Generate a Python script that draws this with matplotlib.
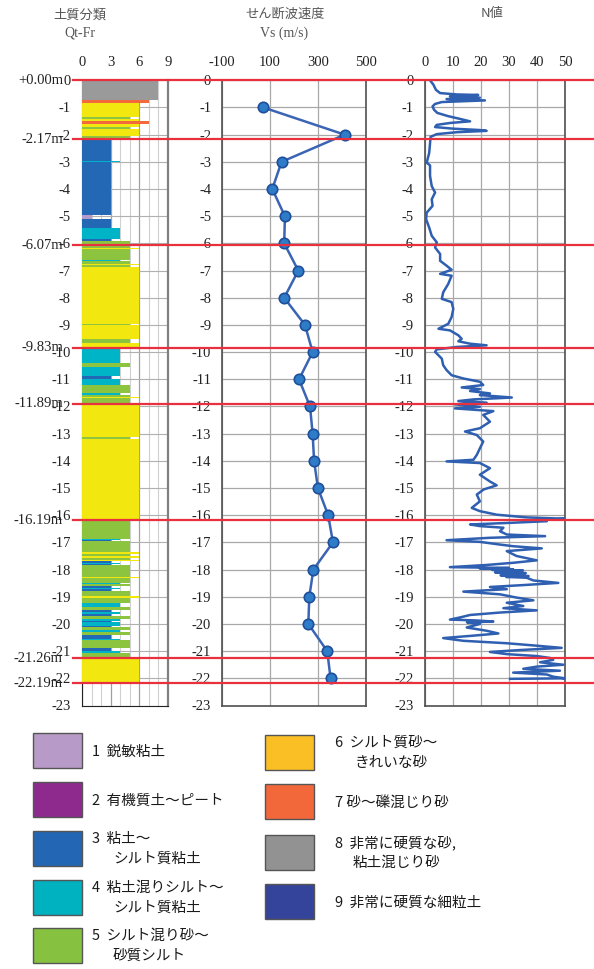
import matplotlib
matplotlib.use("Agg")
import matplotlib.pyplot as plt
import matplotlib.transforms as mtransforms
from matplotlib.lines import Line2D
from matplotlib.patches import Rectangle

plt.rcParams["axes.unicode_minus"] = False

# ---- soil classification layers (top depth m, class) ----
layer_top = [0.00, 0.74, 0.85, 1.36, 1.43, 1.50, 1.62, 1.70, 1.80, 2.06,
             2.17, 2.96, 3.00, 4.96, 5.12, 5.45, 5.82, 5.92, 6.07, 6.16,
             6.22, 6.62, 6.66, 6.74, 6.80, 6.86, 8.98, 9.02, 9.52, 9.65,
             9.83, 10.40, 10.56, 10.88, 11.00, 11.20, 11.50, 11.56, 11.64, 11.70,
             11.89, 13.14, 13.18, 16.19, 16.88, 16.92, 16.96, 17.36, 17.42, 17.50,
             17.58, 17.64, 17.70, 17.74, 17.78, 17.82, 18.26, 18.30, 18.48, 18.52,
             18.60, 18.66, 18.72, 18.78, 18.96, 19.04, 19.22, 19.38, 19.50, 19.56,
             19.62, 19.70, 19.80, 19.90, 19.94, 20.08, 20.12, 20.22, 20.30, 20.42,
             20.56, 20.60, 20.90, 21.00, 21.06, 21.26]
layer_cls = [8, 7, 6, 5, 6, 7, 6, 5, 6, 5,
             3, 4, 3, 1, 3, 4, 3, 5, 5, 6,
             5, 4, 5, 6, 5, 6, 5, 6, 5, 6,
             4, 5, 4, 3, 4, 5, 4, 5, 6, 5,
             6, 5, 6, 5, 4, 3, 5, 6, 5, 6,
             5, 6, 3, 4, 3, 5, 6, 5, 4, 5,
             3, 4, 3, 5, 6, 5, 4, 5, 3, 4,
             3, 5, 4, 3, 4, 3, 5, 4, 5, 3,
             4, 5, 3, 4, 5, 6]
layer_end = 22.19

bar_colors = {1: "#b49bcb", 2: "#8e2a8e", 3: "#2368b4", 4: "#00b4c8", 5: "#8cc43f",
              6: "#f2e70f", 7: "#f26a3b", 8: "#9a9a9a", 9: "#34449a"}

# ---- shear wave velocity ----
vs_depth = [1, 2, 3, 4, 5, 6, 7, 8, 9, 10, 11, 12, 13, 14, 15, 16, 17, 18, 19, 20, 21, 22]
vs_value = [72, 412, 148, 109, 162, 159, 218, 159, 246, 278, 221,
            267, 278, 284, 300, 343, 363, 281, 264, 260, 339, 353]

# ---- N value ----
n_depth = [0.00, 0.16, 0.35, 0.47, 0.52, 0.54, 0.59, 0.64, 0.69, 0.74, 0.80, 0.87, 0.96,
           1.08, 1.20, 1.32, 1.42, 1.51, 1.57, 1.64, 1.72, 1.78, 1.83, 1.86, 1.91, 1.98,
           2.08, 2.30, 2.67, 3.03, 3.13, 3.52, 3.89, 4.13, 4.38, 4.62, 4.87, 5.11, 5.42,
           5.72, 5.96, 6.15, 6.39, 6.64, 6.82, 6.97, 7.12, 7.19, 7.49, 7.80, 8.04, 8.16,
           8.41, 8.71, 8.96, 9.14, 9.20, 9.38, 9.51, 9.60, 9.69, 9.75, 9.81, 9.90, 9.99,
           10.24, 10.48, 10.66, 10.85, 10.97, 11.09, 11.21, 11.30, 11.36, 11.43, 11.52,
           11.58, 11.67, 11.74, 11.80, 11.86, 11.92, 12.01, 12.07, 12.17, 12.31, 12.56,
           12.80, 12.92, 13.05, 13.29, 13.54, 13.78, 13.96, 14.02, 14.08, 14.27, 14.51,
           14.76, 14.90, 15.05, 15.24, 15.49, 15.73, 15.85, 15.98, 16.08, 16.13, 16.17,
           16.22, 16.28, 16.34, 16.40, 16.46, 16.59, 16.71, 16.77, 16.83, 16.92, 16.98,
           17.08, 17.14, 17.22, 17.32, 17.50, 17.66, 17.75, 17.83, 17.91, 17.94, 17.96,
           17.99, 18.01, 18.03, 18.05, 18.08, 18.10, 18.13, 18.15, 18.18, 18.21, 18.24,
           18.27, 18.30, 18.40, 18.49, 18.57, 18.64, 18.72,
           18.81, 18.91, 19.03, 19.13, 19.22, 19.34, 19.42, 19.50, 19.58, 19.67, 19.76,
           19.84, 19.87, 19.91, 19.94, 20.00, 20.13, 20.25, 20.35, 20.43, 20.52, 20.62,
           20.71, 20.80, 20.88, 20.96, 21.03, 21.11, 21.18, 21.25, 21.32, 21.41, 21.50,
           21.57, 21.65, 21.72, 21.79, 21.86, 21.94, 22.00, 22.02]
n_value = [1.8, 3.0, 3.9, 5.4, 11.3, 19.0, 8.9, 19.6, 7.7, 21.4, 6.0, 3.6, 2.7,
           3.2, 4.4, 8.3, 12.5, 16.1, 8.9, 4.2, 3.6, 10.1, 19.6, 22.0, 11.3, 4.2,
           2.0, 1.8, 1.5, 0.6, 1.8, 1.8, 2.4, 3.6, 2.4, 2.7, 0.6, 0.4, 1.5,
           2.4, 4.2, 3.6, 5.4, 5.4, 7.7, 9.5, 5.4, 9.5, 8.3, 6.5, 6.0, 9.5,
           10.1, 9.5, 8.3, 4.8, 8.9, 11.9, 13.1, 11.9, 16.1, 22.0, 11.3, 4.2, 3.6,
           6.0, 6.5, 7.7, 9.5, 13.7, 19.6, 20.8, 13.1, 19.6, 16.1, 23.2,
           19.6, 31.0, 17.3, 11.9, 22.0, 10.7, 19.6, 10.7, 24.4, 20.8, 23.2,
           19.6, 14.3, 18.5, 20.8, 19.6, 18.5, 17.3, 7.7, 19.6, 23.2, 19.6,
           23.2, 25.6, 21.0, 18.5, 19.6, 16.7, 19.6, 25.6, 36.3, 50.0, 43.5,
           43.5, 30.4, 16.1, 19.6, 28.0, 26.8, 29.2, 42.9, 23.2, 7.7, 19.6,
           26.8, 31.5, 41.7, 29.2, 32.7, 39.9, 31.5, 22.0, 8.9, 30.0, 19.6,
           31.5, 24.0, 35.0, 26.0, 33.9, 25.0, 36.0, 28.0, 35.1, 27.0, 37.0,
           29.0, 36.3, 38.7, 47.6, 35.1, 23.2, 29.2,
           13.7, 26.8, 32.7, 38.7, 29.2, 35.1, 28.0, 39.9, 26.8, 16.1, 12.5,
           8.9, 18.0, 24.4, 15.0, 19.6, 14.9, 22.0, 26.2, 17.3, 6.5, 13.7,
           29.2, 39.9, 48.8, 33.9, 23.2, 29.2, 39.9, 44.6, 45.8, 41.1, 49.4,
           39.9, 35.1, 48.2, 31.5, 43.5, 45.8, 50.0, 30.4]

# ---- boundary lines ----
bound_depth = [0.00, 2.17, 6.07, 9.83, 11.89, 16.19, 21.26, 22.19]
bound_label = ["+0.00m", "-2.17m", "-6.07m", "-9.83m", "-11.89m", "-16.19m", "-21.26m", "-22.19m"]

# ---- legend ----
legend_colors = ["#b89ac8", "#8e2a8e", "#2366b3", "#00b2bf", "#86c240",
                 "#fbbf26", "#f2683a", "#929292", "#34449a"]
legend_text = [["1  鋭敏粘土"], ["2  有機質土～ピート"], ["3  粘土～", "シルト質粘土"],
               ["4  粘土混りシルト～", "シルト質粘土"], ["5  シルト混り砂～", "砂質シルト"],
               ["6  シルト質砂～", "きれいな砂"], ["7 砂～礫混じり砂"],
               ["8  非常に硬質な砂,", "粘土混じり砂"], ["9  非常に硬質な細粒土"]]

W, H = 594, 969
fig = plt.figure(figsize=(W / 100, H / 100), dpi=100)
serif = "Liberation Serif"
cjk = ["Noto Sans CJK JP", "DejaVu Sans"]


def px_axes(x0, x1, y0, y1):
    return fig.add_axes([x0 / W, 1 - y1 / H, (x1 - x0) / W, (y1 - y0) / H])


def style_depth_axis(ax):
    ax.set_ylim(-23, 0)
    ax.set_yticks(range(0, -24, -1))
    ax.set_yticklabels([str(v) for v in range(0, -24, -1)], fontfamily=serif, fontsize=10.5)
    ax.xaxis.tick_top()
    ax.tick_params(length=0, pad=8, labelcolor="#222222")
    for lab in ax.get_xticklabels():
        lab.set_fontfamily(serif)
        lab.set_fontsize(10.5)


ax1 = px_axes(82, 168, 80.3, 705.5)
ax2 = px_axes(222.3, 365.7, 80.3, 705.5)
ax3 = px_axes(425, 565, 80.3, 705.5)

# soil classification bars
tops = layer_top
bots = layer_top[1:] + [layer_end]
for t, b, c in zip(tops, bots, layer_cls):
    ax1.barh(-(t + b) / 2, c, height=b - t, left=0, color=bar_colors[c], linewidth=0, zorder=3)
ax1.set_xlim(0, 9)
ax1.set_xticks([0, 3, 6, 9])
ax1.set_xticks(range(10), minor=True)
ax1.grid(which="minor", axis="x", color="#d0d0d0", lw=0.8, zorder=0)
ax1.grid(which="major", axis="x", color="#a0a0a0", lw=0.9, zorder=0)
ax1.grid(which="major", axis="y", color="#b0b0b0", lw=0.8, zorder=0)
ax1.tick_params(which="minor", length=0)
style_depth_axis(ax1)
ax1.spines["left"].set_color("#222222")
ax1.spines["bottom"].set_color("#222222")
ax1.spines["right"].set_color("#808080")
ax1.spines["right"].set_linewidth(1.6)
ax1.spines["top"].set_visible(False)

# Vs
ax2.plot(vs_value, [-d for d in vs_depth], color="#3b64b4", lw=1.8, marker="o",
         ms=7.5, mfc="#2e7bc8", mec="#1f4f9a", mew=1.2, zorder=3)
ax2.set_xlim(-100, 500)
ax2.set_xticks([-100, 100, 300, 500])
ax2.grid(color="#a8a8a8", lw=0.9, zorder=0)
style_depth_axis(ax2)

# N value
ax3.plot(n_value, [-d for d in n_depth], color="#2f5fb0", lw=1.8, zorder=3)
ax3.set_xlim(0, 50)
ax3.set_xticks([0, 10, 20, 30, 40, 50])
ax3.grid(color="#a8a8a8", lw=0.9, zorder=0)
style_depth_axis(ax3)

for ax in (ax2, ax3):
    for s in ax.spines.values():
        s.set_color("#505050")
        s.set_linewidth(1.2)

# boundary lines across all panels
trans = mtransforms.blended_transform_factory(fig.transFigure, ax1.transData)
for d, lab in zip(bound_depth, bound_label):
    fig.add_artist(Line2D([73 / W, 1.0], [-d, -d], transform=trans, color="#e8303f",
                          lw=1.6, zorder=10))
    fig.text(63 / W, -d, lab, transform=trans, ha="right", va="center",
             fontfamily=serif, fontsize=10.5, color="#222222", zorder=11)

# titles
fig.text(80 / W, 1 - 15 / H, "土質分類", ha="center", va="center", family=cjk,
         fontsize=9.5, color="#555555")
fig.text(80 / W, 1 - 33 / H, "Qt-Fr", ha="center", va="center", fontfamily=serif,
         fontsize=10, color="#555555")
fig.text(285 / W, 1 - 14 / H, "せん断波速度", ha="center", va="center", family=cjk,
         fontsize=9.5, color="#555555")
fig.text(284 / W, 1 - 33 / H, "Vs (m/s)", ha="center", va="center", fontfamily=serif,
         fontsize=10, color="#555555")
fig.text(492 / W, 1 - 14 / H, "N値", ha="center", va="center", family=cjk,
         fontsize=9.5, color="#555555")

# legend
box_x = [33] * 5 + [265] * 4
box_top = [733, 782, 831, 880, 928, 735, 784, 835, 884]
text_x = [92] * 5 + [335] * 4
sub_x = [113] * 5 + [355, 355, 353, 353]
for i in range(9):
    fig.add_artist(Rectangle((box_x[i] / W, 1 - (box_top[i] + 35) / H), 49 / W, 35 / H,
                             transform=fig.transFigure, facecolor=legend_colors[i],
                             edgecolor="#555555", lw=1.0))
    lines = legend_text[i]
    if len(lines) == 1:
        fig.text(text_x[i] / W, 1 - (box_top[i] + 19) / H, lines[0], ha="left", va="center",
                 family=cjk, fontsize=10.5, color="#1a1a1a")
    else:
        fig.text(text_x[i] / W, 1 - (box_top[i] + 8) / H, lines[0], ha="left", va="center",
                 family=cjk, fontsize=10.5, color="#1a1a1a")
        fig.text(sub_x[i] / W, 1 - (box_top[i] + 28) / H, lines[1], ha="left", va="center",
                 family=cjk, fontsize=10.5, color="#1a1a1a")

fig.savefig("out.png", dpi=100)
